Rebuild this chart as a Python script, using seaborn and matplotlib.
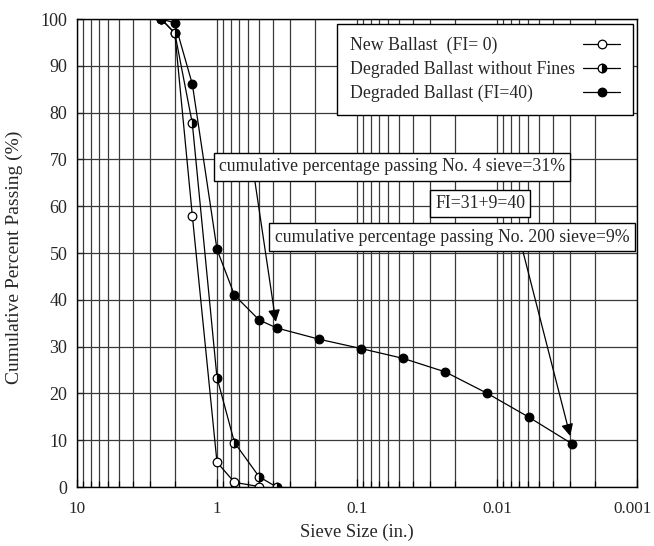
import matplotlib
matplotlib.use("Agg")
import matplotlib.pyplot as plt
import matplotlib.transforms as mtransforms
import seaborn as sns
import numpy as np
import pandas as pd
from matplotlib.ticker import FixedLocator, FixedFormatter, LogLocator, NullFormatter

# ---- data (sieve size in inches, cumulative % passing) ----
new_size = [2.5, 2.0, 1.5, 1.0, 0.75, 0.5]
new_pass = [100, 97, 58, 5.3, 1.0, 0.1]

nofines_size = [2.5, 2.0, 1.5, 1.0, 0.75, 0.5, 0.375]
nofines_pass = [100, 97, 77.7, 23.4, 9.5, 2.2, 0.0]

deg_size = [2.5, 2.0, 1.5, 1.0, 0.75, 0.5, 0.375, 0.187, 0.0937,
            0.0469, 0.0234, 0.0117, 0.0059, 0.0029]
deg_pass = [100, 99.2, 86.1, 50.8, 41.0, 35.7, 34.0, 31.6, 29.6,
            27.5, 24.6, 20.0, 14.9, 9.2]

labels = ["New Ballast  (FI= 0)", "Degraded Ballast without Fines",
          "Degraded Ballast (FI=40)"]

x_ticks = [10, 1, 0.1, 0.01, 0.001]
x_tick_labels = ["10", "1", "0.1", "0.01", "0.001"]
y_ticks = list(range(0, 101, 10))

note1 = "cumulative percentage passing No. 4 sieve=31%"
note2 = "FI=31+9=40"
note3 = "cumulative percentage passing No. 200 sieve=9%"

# ---- style ----
sns.set_theme(style="white")
plt.rcParams['font.family'] = ['Liberation Serif', 'DejaVu Serif']

FS = 12.8
fig = plt.figure(figsize=(6.54, 5.46), dpi=100)
ax = fig.add_axes([0.1177, 0.108, 0.8563, 0.857])

common = dict(color="black", linewidth=0.9, markersize=6.2,
              markeredgecolor="black", markeredgewidth=0.9,
              estimator=None, sort=False, ax=ax)

df_new = pd.DataFrame({"size": new_size, "pass": new_pass})
df_nf = pd.DataFrame({"size": nofines_size, "pass": nofines_pass})
df_deg = pd.DataFrame({"size": deg_size, "pass": deg_pass})

sns.lineplot(data=df_new, x="size", y="pass", marker="o",
             markerfacecolor="white", label=labels[0], **common)
sns.lineplot(data=df_nf, x="size", y="pass", marker="o",
             fillstyle="right", markerfacecolor="black",
             markerfacecoloralt="white", label=labels[1], **common)
sns.lineplot(data=df_deg, x="size", y="pass", marker="o",
             markerfacecolor="black", label=labels[2], **common)

ax.set_xscale("log")
ax.set_xlim(10, 0.001)
ax.set_ylim(0, 100)
ax.xaxis.set_major_locator(FixedLocator(x_ticks))
ax.xaxis.set_major_formatter(FixedFormatter(x_tick_labels))
ax.xaxis.set_minor_locator(LogLocator(base=10, subs=np.arange(2, 10)))
ax.xaxis.set_minor_formatter(NullFormatter())
ax.set_yticks(y_ticks)

ax.grid(True, which="major", axis="both", color="#3a3a3a", linewidth=0.9)
ax.grid(True, which="minor", axis="x", color="#3a3a3a", linewidth=0.9)
ax.set_axisbelow(True)

ax.tick_params(axis="x", which="both", direction="in", bottom=True,
               top=False, labelsize=12.3, color="black", pad=10)
ax.tick_params(axis="x", which="major", length=6, width=0.9)
ax.tick_params(axis="x", which="minor", length=4, width=0.9)
ax.tick_params(axis="y", which="major", direction="in", left=True,
               length=5, width=0.9, labelsize=13, pad=7)
for s in ax.spines.values():
    s.set_color("black")
    s.set_linewidth(1.0)

# nudge the last x tick label so it stays inside the canvas
for lab in ax.get_xticklabels():
    if lab.get_text() == "0.001":
        lab.set_transform(lab.get_transform() +
                          mtransforms.ScaledTranslation(-3 / 72, 0, fig.dpi_scale_trans))

ax.set_xlabel("Sieve Size (in.)", fontsize=13.2, labelpad=5)
ax.set_ylabel("Cumulative Percent Passing (%)", fontsize=14)
ax.yaxis.set_label_coords(-0.097, 0.49)

BP = 0.72
leg = ax.legend(loc="upper right", bbox_to_anchor=(0.993, 0.99),
                borderaxespad=0, markerfirst=False, fancybox=False,
                framealpha=1, edgecolor="black", fontsize=FS,
                handlelength=2.1, borderpad=BP, labelspacing=0.4,
                handletextpad=1.0)
leg.get_frame().set_linewidth(1.0)

# left-align label texts with markers on the right (fixed-width rows)
legend_width_px = 296
bp_px = BP * FS * fig.dpi / 72
row_w = legend_width_px - 2 * bp_px
for col in leg._legend_handle_box.get_children():
    for row in col.get_children():
        row.mode = "expand"
        row.width = row_w

box = dict(boxstyle="square,pad=0.3", fc="white", ec="black", lw=1.0)
ax.text(0.0562, 68.4, note1, ha="center", va="center", fontsize=FS,
        bbox=box, zorder=5)
ax.text(0.0132, 60.6, note2, ha="center", va="center", fontsize=FS,
        bbox=box, zorder=5)
ax.text(0.0210, 53.4, note3, ha="center", va="center", fontsize=FS,
        bbox=box, zorder=5)

arrow = dict(arrowstyle="-|>,head_length=0.6,head_width=0.3",
             color="black", lw=0.9, shrinkA=0, shrinkB=0)
ax.annotate("", xy=(0.38, 35.3), xytext=(0.535, 65.2), arrowprops=arrow,
            zorder=4)
ax.annotate("", xy=(0.00300, 10.9), xytext=(0.00652, 50.3),
            arrowprops=arrow, zorder=4)

fig.savefig("out.png", dpi=100)
